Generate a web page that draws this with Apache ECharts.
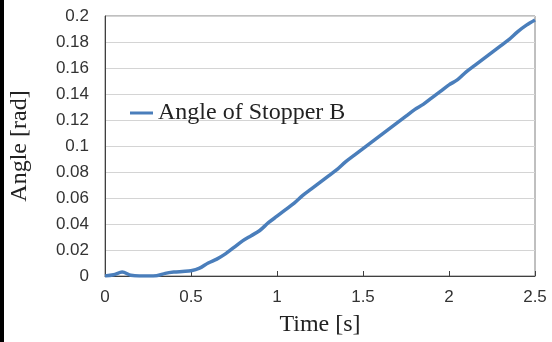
<!DOCTYPE html>
<html>
<head>
<meta charset="utf-8">
<script src="https://cdn.jsdelivr.net/npm/echarts@6/dist/echarts.min.js"></script>
<style>
  html, body { margin: 0; padding: 0; background: #fff; }
  #chart { width: 552px; height: 342px; }
</style>
</head>
<body>
<div id="chart"></div>
<script>
// time in seconds, angle in rad
var times = [0, 0.05, 0.1, 0.15, 0.2, 0.25, 0.3, 0.35, 0.4, 0.45, 0.5, 0.55, 0.6, 0.65, 0.7, 0.75,
    0.8, 0.85, 0.9, 0.95, 1.0, 1.05, 1.1, 1.15, 1.2, 1.25, 1.3, 1.35, 1.4, 1.45, 1.5, 1.55,
    1.6, 1.65, 1.7, 1.75, 1.8, 1.85, 1.9, 1.95, 2.0, 2.05, 2.1, 2.15, 2.2, 2.25, 2.3, 2.35,
    2.4, 2.45, 2.5];
var angleB = [0, 0.001, 0.003, 0.0006, 0, 0, 0.0002, 0.002, 0.003, 0.0035, 0.004, 0.006, 0.010,
    0.013, 0.017, 0.022, 0.027, 0.031, 0.035, 0.041, 0.046, 0.051, 0.056, 0.062, 0.067, 0.072,
    0.077, 0.082, 0.088, 0.093, 0.098, 0.103, 0.108, 0.113, 0.118, 0.123, 0.128, 0.132, 0.137,
    0.142, 0.147, 0.151, 0.157, 0.162, 0.167, 0.172, 0.177, 0.182, 0.188, 0.193, 0.197];

var seriesData = [];
for (var i = 0; i < times.length; i++) {
    seriesData.push([times[i], angleB[i]]);
}

var chart = echarts.init(document.getElementById('chart'));
var option = {
    animation: false,
    backgroundColor: '#fff',
    graphic: [{
        type: 'rect',
        left: 0, top: 0,
        shape: { width: 4, height: 342 },
        style: { fill: '#000' }
    }],
    grid: {
        left: 103, right: 17, top: 16, bottom: 65,
        show: true,
        borderColor: '#808080',
        borderWidth: 1
    },
    legend: {
        left: 125, top: 96,
        icon: 'rect',
        itemWidth: 23, itemHeight: 3,
        itemGap: 4,
        textStyle: { fontFamily: 'Liberation Serif', fontSize: 24, color: '#222', padding: [0, 0, 0, 0] },
        data: ['Angle of Stopper B']
    },
    xAxis: {
        type: 'value',
        min: 0, max: 2.5, interval: 0.5,
        name: 'Time [s]',
        nameLocation: 'middle',
        nameGap: 37,
        nameTextStyle: { fontFamily: 'Liberation Serif', fontSize: 24, color: '#222' },
        axisLine: { lineStyle: { color: '#404040', width: 1 } },
        axisTick: { inside: true, length: 5, lineStyle: { color: '#404040' } },
        axisLabel: { fontFamily: 'Liberation Sans', fontSize: 17, color: '#333', margin: 13 },
        splitLine: { show: false }
    },
    yAxis: {
        type: 'value',
        min: 0, max: 0.2, interval: 0.02,
        name: 'Angle [rad]',
        nameLocation: 'middle',
        nameGap: 73,
        nameTextStyle: { fontFamily: 'Liberation Serif', fontSize: 24, color: '#222' },
        axisLine: { show: true, lineStyle: { color: '#404040', width: 1 } },
        axisTick: { show: false },
        axisLabel: { fontFamily: 'Liberation Sans', fontSize: 17, color: '#333', margin: 16 },
        splitLine: { lineStyle: { color: '#d4d4d4', width: 1 } }
    },
    series: [{
        name: 'Angle of Stopper B',
        type: 'line',
        data: seriesData,
        smooth: 0.3,
        showSymbol: false,
        symbol: 'none',
        lineStyle: { color: '#4a7ebb', width: 3.5 },
        itemStyle: { color: '#4a7ebb' }
    }]
};
chart.setOption(option);
</script>
</body>
</html>
